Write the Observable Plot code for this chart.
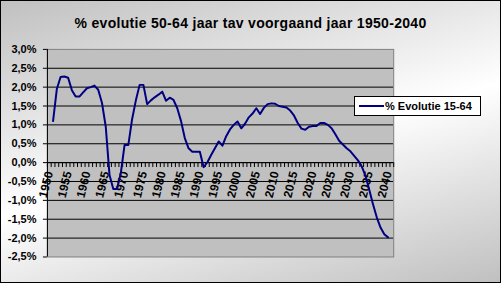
<!DOCTYPE html>
<html><head><meta charset="utf-8">
<script src="https://cdn.jsdelivr.net/npm/d3@7"></script>
<script src="https://cdn.jsdelivr.net/npm/@observablehq/plot@0.6"></script>
<style>
html,body{margin:0;padding:0;background:#fff;}
#chart{position:relative;width:501px;height:283px;box-sizing:border-box;border:1px solid #000;
  background:linear-gradient(165deg,#c0c0c0 0%,#ffffff 52%,#c0c0c0 100%);overflow:hidden;
  font-family:Arial,"Liberation Sans",sans-serif;color:#000;}
#title{position:absolute;left:-1px;width:501px;top:14px;text-align:center;font-weight:bold;font-size:14px;line-height:16px;letter-spacing:0.3px;}
#plot{position:absolute;left:-1px;top:-1px;}
#legend{position:absolute;left:353px;top:95px;width:127px;height:20px;box-sizing:border-box;border:1px solid #000;background:#fff;}
#legend .sw{position:absolute;left:4px;top:8px;width:25px;height:2px;background:#000080;}
#legend .tx{position:absolute;left:30px;top:2px;font-size:11px;line-height:14px;font-weight:bold;white-space:nowrap;}
</style></head>
<body>
<div id="chart">
  <div id="plot"></div>
  <div id="title"></div>
  <div id="legend"><div class="sw"></div><div class="tx"></div></div>
</div>
<script>
const titleText = "% evolutie 50-64 jaar tav voorgaand jaar 1950-2040";
const seriesName = "% Evolutie 15-64";
const years = d3.range(1951, 2041);
const values = [
  1.10, 1.95, 2.27, 2.28, 2.25, 1.92, 1.75, 1.75, 1.86, 1.97,
  2.00, 2.04, 1.93, 1.58, 0.95, -0.33, -0.70, -0.70, -0.28, 0.47,
  0.47, 1.15, 1.65, 2.06, 2.06, 1.55, 1.65, 1.73, 1.80, 1.88,
  1.64, 1.72, 1.66, 1.44, 1.10, 0.65, 0.38, 0.29, 0.29, 0.29,
  -0.12, 0.01, 0.20, 0.38, 0.56, 0.45, 0.70, 0.88, 1.00, 1.09,
  0.91, 1.03, 1.20, 1.30, 1.44, 1.29, 1.45, 1.55, 1.57, 1.56,
  1.50, 1.48, 1.46, 1.38, 1.25, 1.05, 0.90, 0.87, 0.95, 0.97,
  0.97, 1.05, 1.05, 1.00, 0.91, 0.75, 0.58, 0.48, 0.38, 0.30,
  0.18, 0.06, -0.10, -0.35, -0.72, -1.10, -1.45, -1.72, -1.90, -1.98
];
const labelYears = [1950,1955,1960,1965,1970,1975,1980,1985,1990,1995,2000,2005,2010,2015,2020,2025,2030,2035,2040];
const yTicks = [-2.5,-2.0,-1.5,-1.0,-0.5,0.0,0.5,1.0,1.5,2.0,2.5,3.0];
const categoryYears = d3.range(1950, 2042);

const data = years.map((year, i) => ({year, value: values[i]}));
const boundaries = categoryYears.map(y => y - 0.5).concat([categoryYears[categoryYears.length - 1] + 0.5]);
const fmt = d => d.toFixed(1).replace(".", ",") + "%";

document.getElementById("title").textContent = titleText;
document.querySelector("#legend .tx").textContent = seriesName;

const chart = Plot.plot({
  width: 501,
  height: 283,
  marginLeft: 47,
  marginRight: 107,
  marginTop: 49,
  marginBottom: 26,
  style: {background: "transparent", fontFamily: "Arial, 'Liberation Sans', sans-serif", color: "#000", overflow: "visible"},
  x: {domain: [categoryYears[0] - 0.5, categoryYears[categoryYears.length - 1] + 0.5], axis: null},
  y: {domain: [yTicks[0], yTicks[yTicks.length - 1]], axis: null},
  marks: [
    Plot.frame({fill: "#c0c0c0", stroke: "none"}),
    Plot.ruleY(yTicks.slice(1, -1), {stroke: "#000", strokeWidth: 1}),
    Plot.frame({stroke: "#808080", strokeWidth: 1}),
    Plot.ruleX([categoryYears[0] - 0.5], {stroke: "#000", strokeWidth: 1}),
    Plot.ruleY([0], {stroke: "#000", strokeWidth: 1}),
    Plot.ruleX(boundaries, {x: d => d, y1: 0, y2: -0.13, stroke: "#000", strokeWidth: 1}),
    Plot.axisY(yTicks, {label: null, tickFormat: fmt, tickSize: 4, tickPadding: 7, fontSize: 11, fontWeight: "bold", stroke: "#000", fill: "#000"}),
    Plot.text(labelYears, {x: d => d, y: 0, text: d => String(d), rotate: -76, textAnchor: "end", lineAnchor: "middle", dy: 9, fontSize: 12, fontWeight: "bold", fill: "#000"}),
    Plot.line(data, {x: "year", y: "value", stroke: "#000080", strokeWidth: 2})
  ]
});
document.getElementById("plot").appendChild(chart);
</script>
</body></html>
